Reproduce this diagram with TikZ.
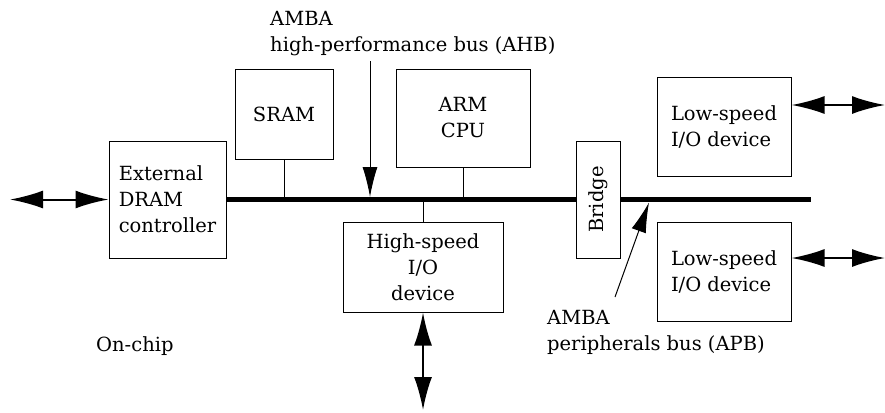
\documentclass[tikz,border=0pt]{standalone}
\usepackage{fontspec}
\setmainfont{DejaVu Serif}
\usepackage{tikz}
\usetikzlibrary{positioning,arrows.meta,calc}
\tikzset{
  blk/.style   = {draw, line width=1pt, fill=white, align=center,
                  inner sep=0pt},
  bus/.style   = {line width=5.5pt},
  tap/.style   = {line width=1pt},
  dbl/.style   = {{Latex[length=33pt,width=18pt]}-{Latex[length=33pt,width=18pt]},
                  line width=2pt},
  ptr/.style   = {-{Latex[length=30pt,width=15pt]}, line width=1pt},
  lbl/.style   = {align=left, inner sep=0pt},
}
\begin{document}
\begin{tikzpicture}[x=1pt, y=-1pt, font=\fontsize{19.5}{26}\selectfont]
  \useasboundingbox (0,0) rectangle (885,412);
  % blocks on the AHB
  \node[blk, align=left, minimum width=117pt, minimum height=117pt] (dram) at (167.5,199.5)
       {External\\DRAM\\controller};
  \node[blk, minimum width=98pt, minimum height=90pt] (sram) at (284,114) {SRAM};
  \node[blk, minimum width=134pt, minimum height=98pt] (cpu) at (463,118) {ARM\\CPU};
  \node[blk, minimum width=160pt, minimum height=90pt] (hsio) at (423,267)
       {High-speed\\I/O\\device};
  \node[blk, rotate=90, minimum width=117pt, minimum height=44pt] (bridge) at (598,199.5)
       {Bridge};
  % blocks on the APB
  \node[blk, align=left, minimum width=134pt, minimum height=99pt] (lsio1) at (724,126.5)
       {Low-speed\\I/O device};
  \node[blk, align=left, minimum width=134pt, minimum height=99pt] (lsio2) at (724,271.5)
       {Low-speed\\I/O device};

  \coordinate (busend) at (811,199.5);
  \draw[bus] (dram.east) -- (bridge.north);
  \draw[bus] (bridge.south) -- (busend);
  \draw[tap] (sram.south) -- (sram.south |- dram.east);
  \draw[tap] (cpu.south) -- (cpu.south |- dram.east);
  \draw[tap] (hsio.north) -- (hsio.north |- dram.east);

  % off-chip connections
  \coordinate (dramext) at (10,199.5);
  \coordinate (hsext) at (423,410);
  \coordinate (ls1ext) at (885,105);
  \coordinate (ls2ext) at (885,258);
  \draw[dbl] (dramext) -- (dram.west);
  \draw[dbl] (hsio.south) -- (hsext);
  \draw[dbl] (lsio1.east |- ls1ext) -- (ls1ext);
  \draw[dbl] (lsio2.east |- ls2ext) -- (ls2ext);

  % bus labels
  \node[lbl, anchor=north west] (ahb) at (270,11.5) {AMBA\\high-performance bus (AHB)};
  \coordinate (ahbtop) at (370,61);
  \coordinate (ahbtip) at (370,197);
  \draw[ptr] (ahbtop) -- (ahbtip);
  \node[lbl, anchor=north west] (apb) at (547,310) {AMBA\\peripherals bus (APB)};
  \coordinate (apbtail) at (615,297);
  \coordinate (apbtip) at (649,202.5);
  \draw[ptr] (apbtail) -- (apbtip);
  \node[lbl, anchor=base west] (chip) at (96,351) {On-chip};
\end{tikzpicture}
\end{document}
